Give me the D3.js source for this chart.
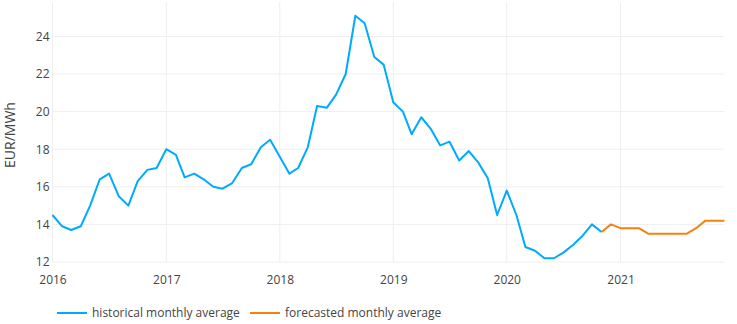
<!DOCTYPE html>
<html>
<head>
<meta charset="utf-8">
<script src="https://cdn.jsdelivr.net/npm/d3@7"></script>
<style>
  body { margin: 0; background: #fff; }
  text { font-family: "Open Sans", sans-serif; fill: #444; }
</style>
</head>
<body>
<svg id="chart" width="737" height="324"></svg>
<script>
// Historical monthly averages, Jan 2016 .. Nov 2020
const historicalStart = [2016, 0];
const historical = [
  14.5, 13.9, 13.7, 13.9, 15.0, 16.4, 16.7, 15.5, 15.0, 16.3, 16.9, 17.0,
  18.0, 17.7, 16.5, 16.7, 16.4, 16.0, 15.9, 16.2, 17.0, 17.2, 18.1, 18.5,
  17.6, 16.7, 17.0, 18.1, 20.3, 20.2, 20.9, 22.0, 25.1, 24.7, 22.9, 22.5,
  20.5, 20.0, 18.8, 19.7, 19.1, 18.2, 18.4, 17.4, 17.9, 17.3, 16.45, 14.5,
  15.8, 14.5, 12.8, 12.6, 12.2, 12.2, 12.5, 12.9, 13.4, 14.0, 13.6
];
// Forecasted monthly averages, Nov 2020 .. Dec 2021
const forecastStart = [2020, 10];
const forecast = [
  13.6, 14.0, 13.8, 13.8, 13.8, 13.5, 13.5, 13.5, 13.5, 13.5, 13.8, 14.2, 14.2, 14.2
];
const yTicks = [12, 14, 16, 18, 20, 22, 24];
const xTickYears = [2016, 2017, 2018, 2019, 2020, 2021];
const seriesNames = ["historical monthly average", "forecasted monthly average"];
const seriesColors = ["#00aaff", "#f5820f"];

const toPoints = (start, vals) => vals.map((v, i) => ({ d: new Date(start[0], start[1] + i, 1), v }));
const histPts = toPoints(historicalStart, historical);
const fcPts = toPoints(forecastStart, forecast);

const svg = d3.select("#chart");
const pLeft = 52.5, pRight = 724.4, pTop = 2, pBottom = 262;

const x = d3.scaleTime().domain([new Date(2016, 0, 1), new Date(2021, 11, 1)]).range([pLeft, pRight]);
const y = d3.scaleLinear().domain([12, 25.83]).range([pBottom, pTop]);

// gridlines
const grid = svg.append("g");
grid.selectAll("line.h").data(yTicks).enter().append("line")
  .attr("x1", pLeft).attr("x2", pRight)
  .attr("y1", d => y(d)).attr("y2", d => y(d))
  .attr("stroke", "#eeeeee").attr("stroke-width", 1);
grid.selectAll("line.v").data(xTickYears).enter().append("line")
  .attr("x1", d => x(new Date(d, 0, 1))).attr("x2", d => x(new Date(d, 0, 1)))
  .attr("y1", pTop).attr("y2", pBottom)
  .attr("stroke", "#eeeeee").attr("stroke-width", 1);

// axes via d3 axis generators (domain/ticks hidden, labels styled)
const yAxis = svg.append("g").attr("transform", `translate(${pLeft},0)`)
  .call(d3.axisLeft(y).tickValues(yTicks).tickSize(0).tickPadding(3).tickFormat(d3.format("d")));
yAxis.select(".domain").remove();
yAxis.selectAll("text").style("font-size", "12px").style("font-family", "'Open Sans', sans-serif").attr("fill", "#444");

const xAxis = svg.append("g").attr("transform", `translate(0,${pBottom})`)
  .call(d3.axisBottom(x).tickValues(xTickYears.map(yr => new Date(yr, 0, 1))).tickSize(0).tickPadding(13)
    .tickFormat(d3.timeFormat("%Y")));
xAxis.select(".domain").remove();
xAxis.selectAll("text").style("font-size", "12px").style("font-family", "'Open Sans', sans-serif").attr("fill", "#444");

// axis title
svg.append("text")
  .attr("transform", `translate(15,135) rotate(-90)`)
  .attr("text-anchor", "middle")
  .style("font-size", "14px")
  .text("EUR/MWh");

// lines
const line = d3.line().x(p => x(p.d)).y(p => y(p.v));
svg.append("path").datum(histPts).attr("d", line)
  .attr("fill", "none").attr("stroke", seriesColors[0]).attr("stroke-width", 2).attr("stroke-linejoin", "round");
svg.append("path").datum(fcPts).attr("d", line)
  .attr("fill", "none").attr("stroke", seriesColors[1]).attr("stroke-width", 2).attr("stroke-linejoin", "round");

// legend
const legendItems = [
  { name: seriesNames[0], color: seriesColors[0], x: 57 },
  { name: seriesNames[1], color: seriesColors[1], x: 250 }
];
const lg = svg.append("g");
legendItems.forEach(it => {
  lg.append("line").attr("x1", it.x).attr("x2", it.x + 30).attr("y1", 313).attr("y2", 313)
    .attr("stroke", it.color).attr("stroke-width", 2);
  lg.append("text").attr("x", it.x + 35).attr("y", 317).style("font-size", "12px").text(it.name);
});
</script>
</body>
</html>
